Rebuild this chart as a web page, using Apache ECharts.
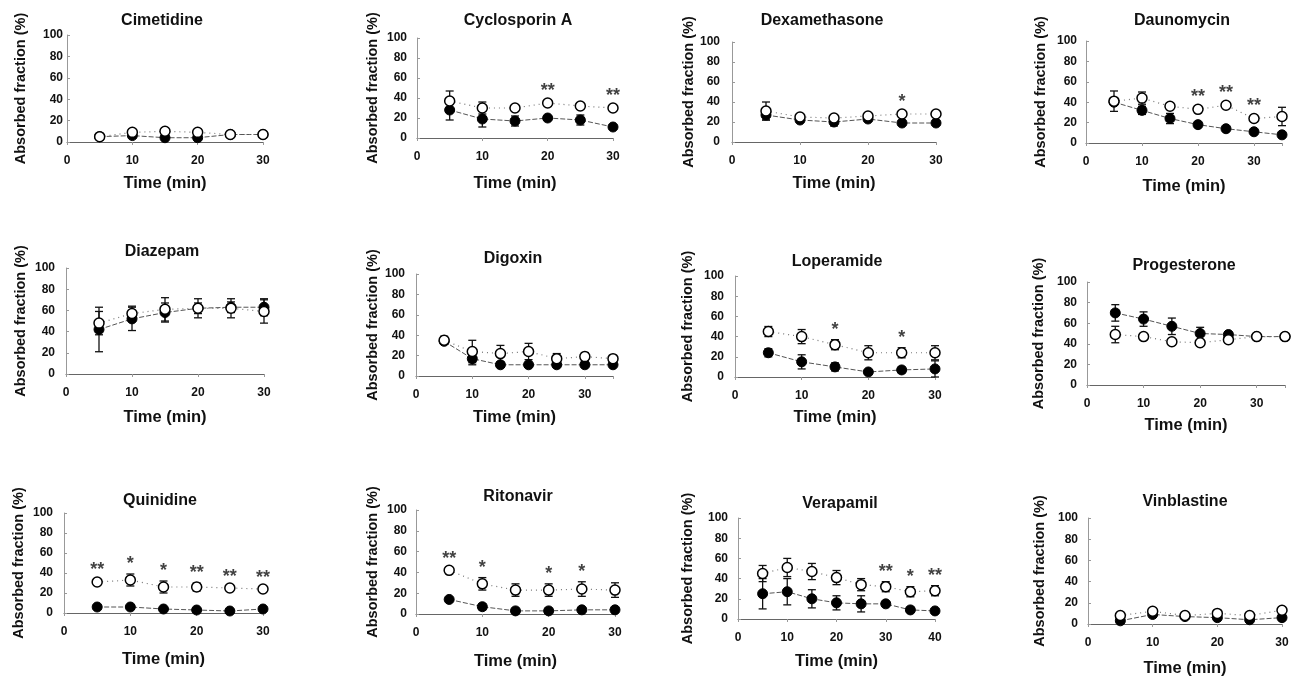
<!DOCTYPE html>
<html>
<head>
<meta charset="utf-8">
<script src="https://cdn.jsdelivr.net/npm/echarts@6/dist/echarts.min.js"></script>
<style>
  html, body { margin: 0; background: #fff; }
  #chart { width: 1298px; height: 679px; }
</style>
</head>
<body>
<div id="chart"></div>
<script>
// sampling times (min)
const t30 = [5, 10, 15, 20, 25, 30];
const t35 = [5, 10, 15, 20, 25, 30, 35];
const t40 = [5, 10, 15, 20, 25, 30, 35, 40];

// filled = closed circles, open = open circles; *Sd = error bar half-length
const cimetidineFilled = [5, 6, 4, 4, 7, 7];
const cimetidineFilledSd = [1, 2, 1, 1, 1, 1];
const cimetidineOpen = [5, 9, 10, 9, 7, 7];
const cimetidineOpenSd = [1, 2, 2, 2, 1, 1];
const cimetidineStars = ['', '', '', '', '', ''];

const cyclosporinFilled = [28, 19, 17, 20, 18, 11];
const cyclosporinFilledSd = [10, 8, 5, 2, 5, 2];
const cyclosporinOpen = [37, 30, 30, 35, 32, 30];
const cyclosporinOpenSd = [10, 6, 2, 2, 1, 2];
const cyclosporinStars = ['', '', '', '**', '', '**'];

const dexamethasoneFilled = [27, 22, 20, 23, 19, 19];
const dexamethasoneFilledSd = [5, 2, 4, 2, 1, 1];
const dexamethasoneOpen = [31, 25, 24, 26, 28, 28];
const dexamethasoneOpenSd = [9, 2, 2, 2, 2, 2];
const dexamethasoneStars = ['', '', '', '', '*', ''];

const daunomycinFilled = [40, 32, 24, 18, 14, 11, 8];
const daunomycinFilledSd = [3, 4, 5, 2, 2, 2, 2];
const daunomycinOpen = [41, 44, 36, 33, 37, 24, 26];
const daunomycinOpenSd = [10, 6, 3, 2, 2, 2, 9];
const daunomycinStars = ['', '', '', '**', '**', '**', ''];

const diazepamFilled = [42, 52, 58, 62, 63, 63];
const diazepamFilledSd = [21, 11, 9, 5, 5, 8];
const diazepamOpen = [48, 57, 61, 62, 62, 59];
const diazepamOpenSd = [11, 7, 11, 9, 9, 11];
const diazepamStars = ['', '', '', '', '', ''];

const digoxinFilled = [34, 17, 11, 11, 11, 11, 11];
const digoxinFilledSd = [3, 6, 2, 1, 1, 1, 1];
const digoxinOpen = [35, 24, 22, 24, 17, 19, 17];
const digoxinOpenSd = [4, 11, 8, 8, 5, 4, 2];
const digoxinStars = ['', '', '', '', '', '', ''];

const loperamideFilled = [24, 15, 10, 5, 7, 8];
const loperamideFilledSd = [4, 7, 4, 2, 3, 8];
const loperamideOpen = [45, 40, 32, 24, 24, 24];
const loperamideOpenSd = [5, 7, 5, 7, 5, 7];
const loperamideStars = ['', '', '*', '', '*', ''];

const progesteroneFilled = [70, 64, 57, 50, 49, 47, 47];
const progesteroneFilledSd = [8, 7, 8, 6, 2, 1, 1];
const progesteroneOpen = [49, 47, 42, 41, 44, 47, 47];
const progesteroneOpenSd = [8, 2, 2, 2, 2, 2, 2];
const progesteroneStars = ['', '', '', '', '', '', ''];

const quinidineFilled = [6, 6, 4, 3, 2, 4];
const quinidineFilledSd = [1, 1, 1, 1, 1, 1];
const quinidineOpen = [31, 33, 26, 26, 25, 24];
const quinidineOpenSd = [2, 6, 6, 4, 1, 1];
const quinidineStars = ['**', '*', '*', '**', '**', '**'];

const ritonavirFilled = [14, 7, 3, 3, 4, 4];
const ritonavirFilledSd = [1, 3, 1, 1, 1, 1];
const ritonavirOpen = [42, 29, 23, 23, 24, 23];
const ritonavirOpenSd = [1, 6, 6, 6, 7, 7];
const ritonavirStars = ['**', '*', '', '*', '*', ''];

const verapamilFilled = [25, 27, 20, 16, 15, 15, 9, 8];
const verapamilFilledSd = [15, 13, 9, 7, 8, 2, 2, 2];
const verapamilOpen = [45, 51, 47, 41, 34, 32, 27, 28];
const verapamilOpenSd = [8, 9, 8, 7, 6, 5, 5, 5];
const verapamilStars = ['', '', '', '', '', '**', '*', '**'];

const vinblastineFilled = [3, 9, 7, 6, 4, 6];
const vinblastineFilledSd = [1, 1, 1, 1, 1, 1];
const vinblastineOpen = [8, 12, 8, 10, 8, 13];
const vinblastineOpenSd = [2, 2, 2, 2, 2, 2];
const vinblastineStars = ['', '', '', '', '', ''];

const yTicks = [0, 20, 40, 60, 80, 100];

const panels = [
  { name: 'Cimetidine', times: t30, filled: cimetidineFilled, filledSd: cimetidineFilledSd, open: cimetidineOpen, openSd: cimetidineOpenSd, stars: cimetidineStars },
  { name: 'Cyclosporin A', times: t30, filled: cyclosporinFilled, filledSd: cyclosporinFilledSd, open: cyclosporinOpen, openSd: cyclosporinOpenSd, stars: cyclosporinStars },
  { name: 'Dexamethasone', times: t30, filled: dexamethasoneFilled, filledSd: dexamethasoneFilledSd, open: dexamethasoneOpen, openSd: dexamethasoneOpenSd, stars: dexamethasoneStars },
  { name: 'Daunomycin', times: t35, filled: daunomycinFilled, filledSd: daunomycinFilledSd, open: daunomycinOpen, openSd: daunomycinOpenSd, stars: daunomycinStars },
  { name: 'Diazepam', times: t30, filled: diazepamFilled, filledSd: diazepamFilledSd, open: diazepamOpen, openSd: diazepamOpenSd, stars: diazepamStars },
  { name: 'Digoxin', times: t35, filled: digoxinFilled, filledSd: digoxinFilledSd, open: digoxinOpen, openSd: digoxinOpenSd, stars: digoxinStars },
  { name: 'Loperamide', times: t30, filled: loperamideFilled, filledSd: loperamideFilledSd, open: loperamideOpen, openSd: loperamideOpenSd, stars: loperamideStars },
  { name: 'Progesterone', times: t35, filled: progesteroneFilled, filledSd: progesteroneFilledSd, open: progesteroneOpen, openSd: progesteroneOpenSd, stars: progesteroneStars },
  { name: 'Quinidine', times: t30, filled: quinidineFilled, filledSd: quinidineFilledSd, open: quinidineOpen, openSd: quinidineOpenSd, stars: quinidineStars },
  { name: 'Ritonavir', times: t30, filled: ritonavirFilled, filledSd: ritonavirFilledSd, open: ritonavirOpen, openSd: ritonavirOpenSd, stars: ritonavirStars },
  { name: 'Verapamil', times: t40, filled: verapamilFilled, filledSd: verapamilFilledSd, open: verapamilOpen, openSd: verapamilOpenSd, stars: verapamilStars },
  { name: 'Vinblastine', times: t30, filled: vinblastineFilled, filledSd: vinblastineFilledSd, open: vinblastineOpen, openSd: vinblastineOpenSd, stars: vinblastineStars }
];

// panel placement: left, top, width, height, titleX, titleTop, yNameGap, xNameGap, yLabelMargin
const layout = [
  [67, 35, 196, 107, 157, 8, 39, 33, 4],
  [417, 38, 196, 100, 513, 8, 37, 37, 10],
  [732, 42, 204, 100, 817, 8, 36, 33, 12],
  [1086, 41, 196, 102, 1177, 8, 38, 35, 9],
  [66, 268, 198, 106, 157, 239, 38, 35, 11],
  [416, 274, 197, 102, 508, 246, 36, 33, 11],
  [735, 276, 200, 101, 832, 249, 40, 32, 11],
  [1087, 282, 198, 103, 1179, 253, 41, 32, 10],
  [64, 513, 199, 100, 155, 488, 38, 38, 11],
  [416, 510, 199, 104, 513, 484, 36, 39, 9],
  [738, 518, 197, 101, 835, 491, 43, 34, 10],
  [1088, 518, 194, 106, 1180, 489, 41, 36, 10]
];

const font = "'Liberation Sans', Arial, sans-serif";
const axisColor = '#666';

function errorBars(idx, times, vals, sds) {
  return {
    type: 'custom',
    xAxisIndex: idx,
    yAxisIndex: idx,
    z: 1,
    silent: true,
    data: times.map((t, i) => [t, Math.max(0, vals[i] - sds[i]), vals[i] + sds[i]]),
    renderItem: (params, api) => {
      const lo = api.coord([api.value(0), api.value(1)]);
      const hi = api.coord([api.value(0), api.value(2)]);
      const w = 4;
      const style = { stroke: '#111', lineWidth: 1.3 };
      return {
        type: 'group',
        children: [
          { type: 'line', shape: { x1: lo[0], y1: lo[1], x2: hi[0], y2: hi[1] }, style },
          { type: 'line', shape: { x1: hi[0] - w, y1: hi[1], x2: hi[0] + w, y2: hi[1] }, style },
          { type: 'line', shape: { x1: lo[0] - w, y1: lo[1], x2: lo[0] + w, y2: lo[1] }, style }
        ]
      };
    }
  };
}

const grid = [], xAxis = [], yAxis = [], title = [], series = [];

panels.forEach((p, i) => {
  const [left, top, width, height, tx, ty, yGap, xGap, yMargin] = layout[i];
  const xMax = p.times[p.times.length - 1];
  grid.push({ left, top, width, height, outerBoundsMode: 'none' });
  title.push({
    text: p.name, left: tx, top: ty, textAlign: 'center',
    textStyle: { fontFamily: font, fontWeight: 'bold', fontSize: 16, color: '#111' }
  });
  xAxis.push({
    type: 'value', gridIndex: i, min: 0, max: xMax, interval: 10,
    name: 'Time (min)', nameLocation: 'middle', nameGap: xGap,
    nameTextStyle: { fontFamily: font, fontWeight: 'bold', fontSize: 16.5, color: '#111' },
    axisLine: { lineStyle: { color: axisColor, width: 1 } },
    axisTick: { show: true, length: 3, lineStyle: { color: '#999' } },
    splitLine: { show: false },
    axisLabel: {
      margin: 13, fontFamily: font, fontWeight: 'bold', fontSize: 12, color: '#111',
      formatter: (v) => (v % 10 === 0 ? String(v) : '')
    }
  });
  yAxis.push({
    type: 'value', gridIndex: i, min: yTicks[0], max: yTicks[yTicks.length - 1], interval: 20,
    name: 'Absorbed fraction (%)', nameLocation: 'middle', nameGap: yGap,
    nameTextStyle: { fontFamily: font, fontWeight: 'bold', fontSize: 14.5, color: '#111' },
    axisLine: { show: true, lineStyle: { color: '#999', width: 1 } },
    axisTick: { show: true, length: 3, inside: true, lineStyle: { color: '#999' } },
    splitLine: { show: false },
    axisLabel: { margin: yMargin, fontFamily: font, fontWeight: 'bold', fontSize: 12, color: '#111' }
  });

  series.push(errorBars(i, p.times, p.filled, p.filledSd));
  series.push(errorBars(i, p.times, p.open, p.openSd));
  series.push({
    type: 'line', xAxisIndex: i, yAxisIndex: i, z: 2,
    data: p.times.map((t, k) => [t, p.filled[k]]),
    symbol: 'circle', symbolSize: 10,
    itemStyle: { color: '#000', borderColor: '#000', borderWidth: 1 },
    lineStyle: { color: '#555', width: 1, type: [5, 2] }
  });
  series.push({
    type: 'line', xAxisIndex: i, yAxisIndex: i, z: 3,
    data: p.times.map((t, k) => [t, p.open[k]]),
    symbol: 'circle', symbolSize: 10,
    itemStyle: { color: '#fff', borderColor: '#000', borderWidth: 1.5 },
    lineStyle: { color: '#777', width: 1.2, type: [1, 4] }
  });
  series.push({
    type: 'scatter', xAxisIndex: i, yAxisIndex: i, z: 4, silent: true,
    symbolSize: 0,
    data: p.times.map((t, k) => [t, p.open[k] + p.openSd[k], p.stars[k]]).filter((d) => d[2]),
    label: {
      show: true, position: 'top', distance: 1,
      formatter: (d) => d.value[2],
      fontFamily: font, fontWeight: 'bold', fontSize: 18, color: '#111'
    }
  });
});

const chart = echarts.init(document.getElementById('chart'));
chart.setOption({
  animation: false,
  backgroundColor: '#fff',
  title, grid, xAxis, yAxis, series
});
</script>
</body>
</html>
